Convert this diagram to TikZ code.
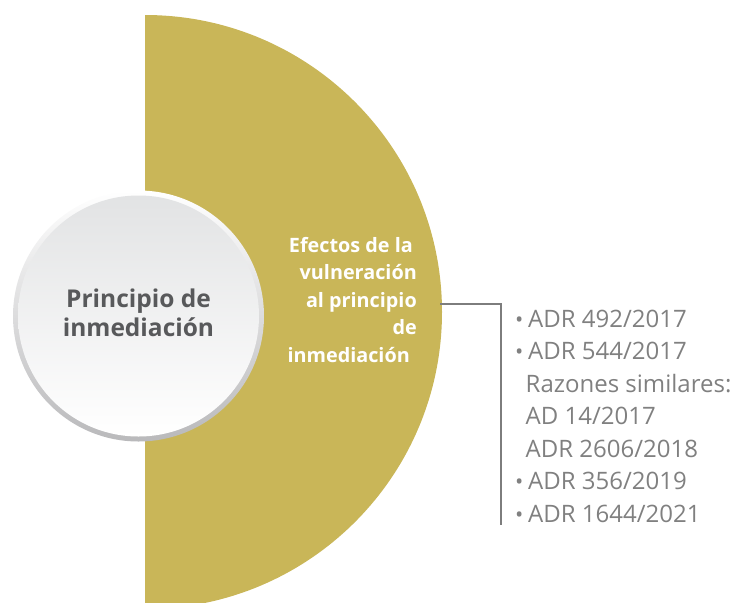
\documentclass[tikz,border=0pt]{standalone}
\usepackage{fontspec}
\setmainfont{Open Sans}
\definecolor{gold}{RGB}{201,182,88}
\definecolor{titlegray}{RGB}{88,89,91}
\definecolor{listgray}{RGB}{128,128,128}
\definecolor{linegray}{RGB}{125,125,125}
\definecolor{ringdark}{RGB}{185,185,187}
\definecolor{innergray}{RGB}{226,227,228}
\tikzset{
  titletext/.style={inner sep=0pt, align=center, text=titlegray,
    font=\fontsize{24.5}{29}\selectfont\bfseries},
  efectostext/.style={inner sep=0pt, align=right, text=white,
    font=\fontsize{19.8}{27.5}\selectfont\bfseries},
  listtext/.style={inner sep=0pt, align=left, text=listgray,
    font=\fontsize{24}{32.5}\selectfont},
  conn/.style={draw=linegray, line width=2.2pt}
}
\newcommand{\bul}{\makebox[13pt][l]{\fontsize{22}{22}\selectfont\textbullet}}
\newcommand{\nobul}{\hspace*{10.5pt}}
\begin{document}
\begin{tikzpicture}[x=1pt,y=-1pt]
\useasboundingbox (0,0) rectangle (737,603);
% half disc
\begin{scope}
  \clip (145,0) rectangle (737,603);
  \fill[gold] (145,312) circle[radius=297pt];
\end{scope}
\coordinate (disc) at (145,312);
% circle with bevel ring
\shade[shading angle=45, top color=white, bottom color=ringdark] (138.5,316) circle[radius=125.5pt];
\shade[shading angle=45, top color=innergray, bottom color=white] (138.5,316) circle[radius=120.5pt];
\node[titletext, anchor=base] (principio) at (138.5,336.7) {Principio de\\inmediación};
% effects text
\node[efectostext, anchor=base east] (efectos) at (417,362)
  {Efectos de la\hspace*{4pt}\\vulneración\\al principio\\de\\inmediación\hspace*{7pt}};
% connector
\coordinate (j1) at (440,304);
\coordinate (j2) at (501,304);
\coordinate (j3) at (501,525);
\draw[conn] (j1) -- (j2) -- (j3);
% list
\node[listtext, anchor=base west] (lista) at (515,522)
  {\bul ADR 492/2017\\
   \bul ADR 544/2017\\
   \nobul Razones similares:\\
   \nobul AD 14/2017\\
   \nobul ADR 2606/2018\\
   \bul ADR 356/2019\\
   \bul ADR 1644/2021};
\end{tikzpicture}
\end{document}
